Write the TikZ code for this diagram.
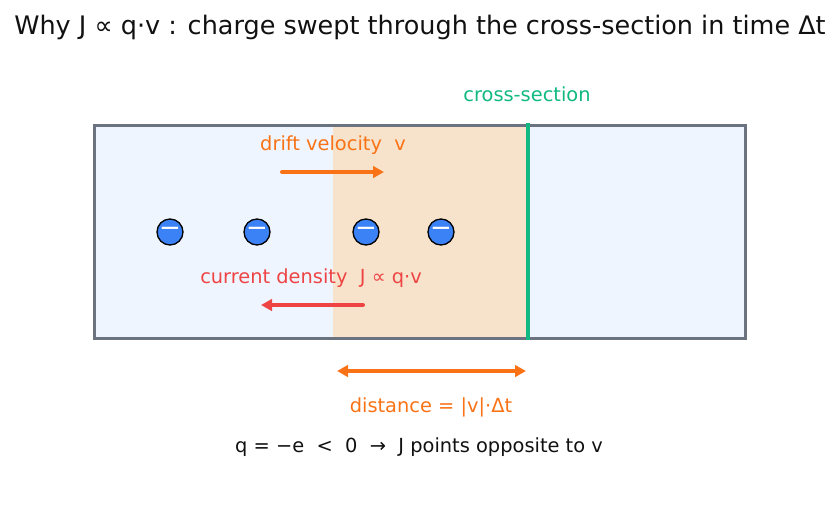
\documentclass[tikz,border=0pt]{standalone}
\usepackage{fontspec}
\setmainfont{DejaVu Sans}
\usetikzlibrary{arrows.meta}
\definecolor{boxfill}{HTML}{EEF5FF}
\definecolor{boxedge}{HTML}{6B7280}
\definecolor{sweep}{HTML}{F7E3CB}
\definecolor{csgreen}{HTML}{10B981}
\definecolor{orng}{HTML}{F97316}
\definecolor{redc}{HTML}{EF4444}
\definecolor{eblue}{HTML}{3B82F6}
\definecolor{txt}{HTML}{111111}
\newcommand{\emin}{\raisebox{-2pt}{−}}
\tikzset{
  lbl/.style={font=\fontsize{19.4}{22}\selectfont, inner sep=0pt},
  electron/.style={circle, draw=black, line width=1.3pt, fill=eblue, minimum size=26pt, inner sep=0pt, text=white, font=\fontsize{26}{26}\selectfont},
  arr/.style={line width=4pt, -{Triangle[length=11pt,width=11.5pt]}, line cap=round},
  darr/.style={line width=4pt, {Triangle[length=11pt,width=11.5pt]}-{Triangle[length=11pt,width=11.5pt]}}
}
\begin{document}
\begin{tikzpicture}[x=1pt,y=-1pt]
\useasboundingbox (0,0) rectangle (839,512);
% box
\fill[boxfill] (94,125) rectangle (745,338);
\fill[sweep] (333,125) rectangle (528,338);
\draw[boxedge, line width=3pt] (94,125) rectangle (745,338);
% cross-section
\coordinate (cstop) at (528,123);
\coordinate (csbot) at (528,340);
\draw[csgreen, line width=4.5pt] (cstop) -- (csbot);
\node[lbl, text=csgreen] (cslabel) at (527,94) {cross-section};
% title
\node[font=\fontsize{25.5}{30}\selectfont, text=txt, inner sep=0pt] (title) at (420,27) {Why J ∝ q·v : charge swept through the cross-section in time Δt};
% drift velocity
\node[lbl, text=orng] (drift) at (333,145) {drift velocity\ \ v};
\coordinate (d1) at (282,172);
\coordinate (d2) at (384,172);
\draw[arr, orng] (d1) -- (d2);
% electrons
\node[electron] (e1) at (170,232) {\emin};
\node[electron] (e2) at (257,232) {\emin};
\node[electron] (e3) at (366,232) {\emin};
\node[electron] (e4) at (441,232) {\emin};
% current density
\node[lbl, text=redc] (cur) at (311,278) {current density\ \ J ∝ q·v};
\coordinate (c1) at (363,305);
\coordinate (c2) at (261,305);
\draw[arr, redc] (c1) -- (c2);
% distance
\coordinate (s1) at (337,371);
\coordinate (s2) at (526,371);
\draw[darr, orng] (s1) -- (s2);
\node[lbl, text=orng] (dist) at (431,407) {distance = |v|·Δt};
% bottom note
\node[lbl, text=txt] (note) at (419,447) {q = −e\ \ <\ \ 0\ \ →\ \ J points opposite to v};
\end{tikzpicture}
\end{document}
